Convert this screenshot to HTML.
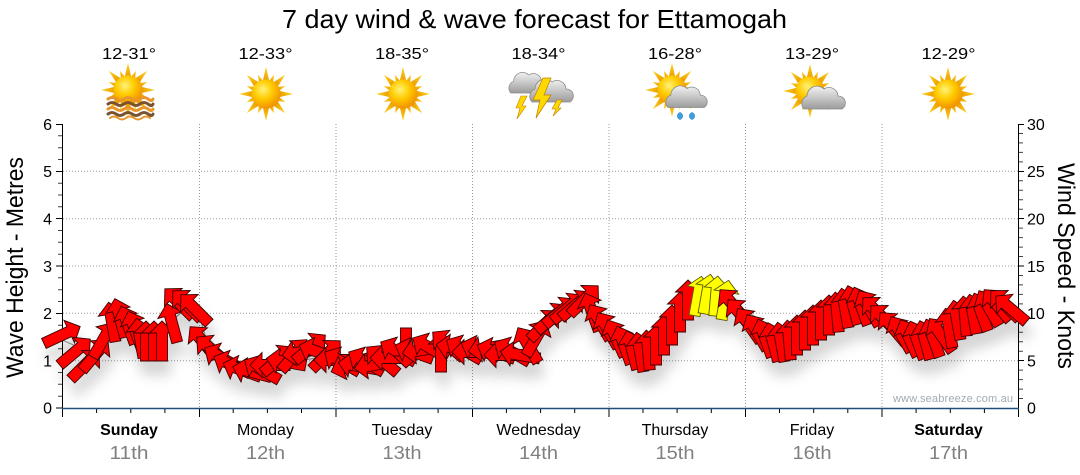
<!DOCTYPE html>
<html>
<head>
<meta charset="utf-8">
<style>
html,body{margin:0;padding:0;background:#fff;}
svg{display:block;}
text{font-family:"Liberation Sans",Arial,sans-serif;}
</style>
</head>
<body>
<svg width="1080" height="475" viewBox="0 0 1080 475" xmlns="http://www.w3.org/2000/svg">
<defs>
  <radialGradient id="sunG" cx="0.4" cy="0.35" r="0.7">
    <stop offset="0" stop-color="#fff27a"/>
    <stop offset="0.45" stop-color="#ffcc00"/>
    <stop offset="1" stop-color="#f08a00"/>
  </radialGradient>
  <linearGradient id="rayG" x1="0" y1="0" x2="0" y2="1">
    <stop offset="0" stop-color="#ffd21a"/>
    <stop offset="1" stop-color="#e89a00"/>
  </linearGradient>
  <linearGradient id="cloudG" x1="0" y1="0" x2="0" y2="1">
    <stop offset="0" stop-color="#f2f2f2"/>
    <stop offset="1" stop-color="#9c9c9c"/>
  </linearGradient>
  <g id="sun">
    <g fill="url(#rayG)">
      <polygon points="-3.5,-12 0,-27 3.5,-12"/>
      <polygon points="-3.5,-12 0,-27 3.5,-12" transform="rotate(45)"/>
      <polygon points="-3.5,-12 0,-27 3.5,-12" transform="rotate(90)"/>
      <polygon points="-3.5,-12 0,-27 3.5,-12" transform="rotate(135)"/>
      <polygon points="-3.5,-12 0,-27 3.5,-12" transform="rotate(180)"/>
      <polygon points="-3.5,-12 0,-27 3.5,-12" transform="rotate(225)"/>
      <polygon points="-3.5,-12 0,-27 3.5,-12" transform="rotate(270)"/>
      <polygon points="-3.5,-12 0,-27 3.5,-12" transform="rotate(315)"/>
      <polygon points="-2.5,-12 0,-21 2.5,-12" transform="rotate(22.5)"/>
      <polygon points="-2.5,-12 0,-21 2.5,-12" transform="rotate(67.5)"/>
      <polygon points="-2.5,-12 0,-21 2.5,-12" transform="rotate(112.5)"/>
      <polygon points="-2.5,-12 0,-21 2.5,-12" transform="rotate(157.5)"/>
      <polygon points="-2.5,-12 0,-21 2.5,-12" transform="rotate(202.5)"/>
      <polygon points="-2.5,-12 0,-21 2.5,-12" transform="rotate(247.5)"/>
      <polygon points="-2.5,-12 0,-21 2.5,-12" transform="rotate(292.5)"/>
      <polygon points="-2.5,-12 0,-21 2.5,-12" transform="rotate(337.5)"/>
    </g>
    <circle r="14.5" fill="url(#sunG)"/>
  </g>
  <g id="cloud">
    <path d="M-19,10 A8,8 0 0 1 -16,-3 A10,10 0 0 1 1,-10 A9,9 0 0 1 15,-3 A7,7 0 0 1 19,10 Z" fill="url(#cloudG)" stroke="#8a8a8a" stroke-width="0.8"/>
  </g>
  <polygon id="ar" points="0,-20 12.5,-8 5.5,-8 5.5,20 -5.5,20 -5.5,-8 -12.5,-8"/>
  <filter id="sh" x="-10%" y="-30%" width="120%" height="180%">
    <feDropShadow dx="3" dy="14" stdDeviation="6" flood-color="#000" flood-opacity="0.16"/>
  </filter>
</defs>

<!-- Title -->
<text x="534.5" y="28" font-size="26" text-anchor="middle" fill="#000" textLength="505" lengthAdjust="spacingAndGlyphs">7 day wind &amp; wave forecast for Ettamogah</text>

<!-- Temperatures -->
<g font-size="16" fill="#000" text-anchor="middle">
  <text x="129" y="59" textLength="54" lengthAdjust="spacingAndGlyphs">12-31°</text>
  <text x="265.5" y="59" textLength="54" lengthAdjust="spacingAndGlyphs">12-33°</text>
  <text x="402" y="59" textLength="54" lengthAdjust="spacingAndGlyphs">18-35°</text>
  <text x="538.5" y="59" textLength="54" lengthAdjust="spacingAndGlyphs">18-34°</text>
  <text x="675" y="59" textLength="54" lengthAdjust="spacingAndGlyphs">16-28°</text>
  <text x="812" y="59" textLength="54" lengthAdjust="spacingAndGlyphs">13-29°</text>
  <text x="948.5" y="59" textLength="54" lengthAdjust="spacingAndGlyphs">12-29°</text>
</g>

<!-- Icons -->
<use href="#sun" transform="translate(128,90)"/>
<g fill="none" stroke-width="3" stroke-linecap="round">
  <path d="M108,99 q4,-3 8,0 t8,0 t8,0 t8,0 t8,0 t5,0" stroke="#e8952a"/>
  <path d="M108,104 q4,-3 8,0 t8,0 t8,0 t8,0 t8,0 t5,0" stroke="#7a5230"/>
  <path d="M108,109 q4,-3 8,0 t8,0 t8,0 t8,0 t8,0 t5,0" stroke="#e8952a"/>
  <path d="M108,114 q4,-3 8,0 t8,0 t8,0 t8,0 t8,0 t5,0" stroke="#7a5230"/>
  <path d="M110,118 q4,-3 8,0 t8,0 t8,0 t8,0 t8,0" stroke="#e8952a" stroke-width="2"/>
</g>
<use href="#sun" transform="translate(266,94)"/>
<use href="#sun" transform="translate(403,94)"/>
<use href="#sun" transform="translate(948,94)"/>
<!-- Wednesday: storm -->
<use href="#cloud" transform="translate(528,84) scale(0.9)"/>
<polygon points="521,96 527,96 522,106 526,106 517,119 520,108 516,108" fill="#ffd800" stroke="#c08000" stroke-width="0.6"/>
<use href="#cloud" transform="translate(551,92) scale(1.0)"/>
<polygon points="543,78 551,78 544,95 551,95 536,118 540,100 533,100" fill="#ffd800" stroke="#c08000" stroke-width="0.7"/>
<polygon points="557,100 562,100 558,108 561,108 553,116 556,109 552,109" fill="#ffd800" stroke="#c08000" stroke-width="0.6"/>
<!-- Thursday -->
<use href="#sun" transform="translate(672,90)"/>
<use href="#cloud" transform="translate(686,98) scale(0.95)"/>
<ellipse cx="680" cy="116" rx="2.6" ry="3.4" fill="#3aa0e0" stroke="#1a70b0" stroke-width="0.5"/>
<ellipse cx="692" cy="116" rx="2.6" ry="3.4" fill="#3aa0e0" stroke="#1a70b0" stroke-width="0.5"/>
<!-- Friday -->
<use href="#sun" transform="translate(810,91)"/>
<use href="#cloud" transform="translate(823,99) scale(1.0)"/>

<!-- Gridlines -->
<g stroke="#9a9a9a" stroke-width="1" stroke-dasharray="1,2" fill="none">
  <line x1="63" y1="360.7" x2="1018" y2="360.7"/>
  <line x1="63" y1="313.3" x2="1018" y2="313.3"/>
  <line x1="63" y1="266" x2="1018" y2="266"/>
  <line x1="63" y1="218.7" x2="1018" y2="218.7"/>
  <line x1="63" y1="171.3" x2="1018" y2="171.3"/>
  <line x1="199.5" y1="124" x2="199.5" y2="408"/>
  <line x1="336" y1="124" x2="336" y2="408"/>
  <line x1="472.5" y1="124" x2="472.5" y2="408"/>
  <line x1="609" y1="124" x2="609" y2="408"/>
  <line x1="745.5" y1="124" x2="745.5" y2="408"/>
  <line x1="882" y1="124" x2="882" y2="408"/>
</g>

<!-- Watermark -->
<text x="893" y="402" font-size="11" fill="#a2aab4" textLength="120" lengthAdjust="spacing">www.seabreeze.com.au</text>

<!-- Axes -->
<g stroke="#000" stroke-width="1" fill="none">
  <line x1="62.5" y1="124" x2="62.5" y2="408"/>
  <line x1="1018.5" y1="124" x2="1018.5" y2="408"/>
  <path d="M56,124.5H62 M56,171.5H62 M56,218.5H62 M56,266H62 M56,313.5H62 M56,360.5H62 M56,408H62"/>
  <path d="M58,396.2H62 M58,384.3H62 M58,372.5H62 M58,348.8H62 M58,337H62 M58,325.2H62 M58,301.5H62 M58,289.7H62 M58,277.8H62 M58,254.2H62 M58,242.3H62 M58,230.5H62 M58,206.8H62 M58,195H62 M58,183.2H62 M58,159.5H62 M58,147.7H62 M58,135.8H62" stroke="#444"/>
  <path d="M1019,124.5H1024 M1019,171.5H1024 M1019,218.5H1024 M1019,266H1024 M1019,313.5H1024 M1019,360.5H1024"/>
  <path d="M1019,398.5H1023 M1019,389.1H1023 M1019,379.6H1023 M1019,370.1H1023 M1019,351.2H1023 M1019,341.7H1023 M1019,332.3H1023 M1019,322.8H1023 M1019,303.9H1023 M1019,294.4H1023 M1019,284.9H1023 M1019,275.5H1023 M1019,256.5H1023 M1019,247.1H1023 M1019,237.6H1023 M1019,228.1H1023 M1019,209.2H1023 M1019,199.7H1023 M1019,190.3H1023 M1019,180.8H1023 M1019,161.9H1023 M1019,152.4H1023 M1019,142.9H1023 M1019,133.5H1023" stroke="#444"/>
  <path d="M62.5,408V417 M199.5,408V417 M336,408V417 M472.5,408V417 M609,408V417 M745.5,408V417 M882,408V417 M1018.5,408V417"/>
  <path d="M96.6,408V413 M130.8,408V413 M164.9,408V413 M233.2,408V413 M267.4,408V413 M301.5,408V413 M369.8,408V413 M404,408V413 M438.1,408V413 M506.4,408V413 M540.6,408V413 M574.7,408V413 M643,408V413 M677.1,408V413 M711.3,408V413 M779.5,408V413 M813.7,408V413 M847.8,408V413 M916.1,408V413 M950.3,408V413 M984.4,408V413"/>
</g>
<line x1="62" y1="408.5" x2="1019" y2="408.5" stroke="#1d4f7c" stroke-width="1.6"/>

<!-- Left axis labels -->
<g font-size="16" fill="#000" text-anchor="end">
  <text x="52" y="130">6</text>
  <text x="52" y="177">5</text>
  <text x="52" y="224.5">4</text>
  <text x="52" y="272">3</text>
  <text x="52" y="319">2</text>
  <text x="52" y="366.5">1</text>
  <text x="52" y="413.5">0</text>
</g>
<!-- Right axis labels -->
<g font-size="16" fill="#000" text-anchor="start">
  <text x="1027" y="130">30</text>
  <text x="1027" y="177">25</text>
  <text x="1027" y="224.5">20</text>
  <text x="1027" y="272">15</text>
  <text x="1027" y="319">10</text>
  <text x="1027" y="366.5">5</text>
  <text x="1027" y="413.5">0</text>
</g>

<!-- Axis titles -->
<text transform="translate(23,267.5) rotate(-90)" font-size="24" text-anchor="middle" fill="#000" textLength="221" lengthAdjust="spacingAndGlyphs">Wave Height - Metres</text>
<text transform="translate(1058,266) rotate(90)" font-size="24" text-anchor="middle" fill="#000" textLength="206" lengthAdjust="spacingAndGlyphs">Wind Speed - Knots</text>

<!-- Day labels -->
<g text-anchor="middle">
  <text x="129" y="435" font-size="16" font-weight="bold" fill="#000">Sunday</text>
  <text x="265.5" y="435" font-size="16" fill="#000">Monday</text>
  <text x="402" y="435" font-size="16" fill="#000">Tuesday</text>
  <text x="538.5" y="435" font-size="16" fill="#000">Wednesday</text>
  <text x="675" y="435" font-size="16" fill="#000">Thursday</text>
  <text x="812" y="435" font-size="16" fill="#000">Friday</text>
  <text x="948.5" y="435" font-size="16" font-weight="bold" fill="#000">Saturday</text>
  <g font-size="18" fill="#808080">
    <text x="129" y="459" textLength="39" lengthAdjust="spacingAndGlyphs">11th</text>
    <text x="265.5" y="459" textLength="39" lengthAdjust="spacingAndGlyphs">12th</text>
    <text x="402" y="459" textLength="39" lengthAdjust="spacingAndGlyphs">13th</text>
    <text x="538.5" y="459" textLength="39" lengthAdjust="spacingAndGlyphs">14th</text>
    <text x="675" y="459" textLength="39" lengthAdjust="spacingAndGlyphs">15th</text>
    <text x="812" y="459" textLength="39" lengthAdjust="spacingAndGlyphs">16th</text>
    <text x="948.5" y="459" textLength="39" lengthAdjust="spacingAndGlyphs">17th</text>
  </g>
</g>

<!-- Wave height line -->
<polyline fill="none" stroke="#999" stroke-width="1.2" points="62,340 90,352 120,330 150,338 175,318 190,305 200,318 205,335 230,360 270,365 330,356 400,356 470,350 520,352 560,312 590,302 620,338 650,352 690,305 715,296 745,310 790,340 840,312 870,308 900,332 930,340 960,320 1000,305 1018,308"/>

<!-- Wind arrows -->
<g filter="url(#sh)">
<g fill="#ff0000" stroke="#3a0000" stroke-width="0.9" stroke-linejoin="miter">
  <use href="#ar" transform="translate(62,335) rotate(65)"/>
  <use href="#ar" transform="translate(75,352) rotate(50)"/>
  <use href="#ar" transform="translate(85,365) rotate(45)"/>
  <use href="#ar" transform="translate(95,355) rotate(40)"/>
  <use href="#ar" transform="translate(103,340) rotate(30)"/>
  <use href="#ar" transform="translate(112,322) rotate(-10)"/>
  <use href="#ar" transform="translate(120,318) rotate(-15)"/>
  <use href="#ar" transform="translate(128,325) rotate(-20)"/>
  <use href="#ar" transform="translate(135,330) rotate(-20)"/>
  <use href="#ar" transform="translate(140,338) rotate(-10)"/>
  <use href="#ar" transform="translate(146,341) rotate(0)"/>
  <use href="#ar" transform="translate(154,341) rotate(0)"/>
  <use href="#ar" transform="translate(162,341) rotate(0)"/>
  <use href="#ar" transform="translate(172,323) rotate(-15)"/>
  <use href="#ar" transform="translate(179,303) rotate(-45)"/>
  <use href="#ar" transform="translate(187,305) rotate(-45)"/>
  <use href="#ar" transform="translate(195,309) rotate(-45)"/>
  <use href="#ar" transform="translate(203,342) rotate(-40)"/>
  <use href="#ar" transform="translate(212,350) rotate(-50)"/>
  <use href="#ar" transform="translate(222,358) rotate(-60)"/>
  <use href="#ar" transform="translate(232,365) rotate(-65)"/>
  <use href="#ar" transform="translate(242,370) rotate(-70)"/>
  <use href="#ar" transform="translate(252,372) rotate(-75)"/>
  <use href="#ar" transform="translate(262,370) rotate(-60)"/>
  <use href="#ar" transform="translate(270,365) rotate(-90)"/>
  <use href="#ar" transform="translate(278,360) rotate(50)"/>
  <use href="#ar" transform="translate(286,362) rotate(-80)"/>
  <use href="#ar" transform="translate(294,355) rotate(40)"/>
  <use href="#ar" transform="translate(302,352) rotate(-100)"/>
  <use href="#ar" transform="translate(310,348) rotate(50)"/>
  <use href="#ar" transform="translate(318,352) rotate(-70)"/>
  <use href="#ar" transform="translate(326,355) rotate(45)"/>
  <use href="#ar" transform="translate(334,360) rotate(-90)"/>
  <use href="#ar" transform="translate(342,362) rotate(-60)"/>
  <use href="#ar" transform="translate(350,365) rotate(-110)"/>
  <use href="#ar" transform="translate(358,366) rotate(-80)"/>
  <use href="#ar" transform="translate(366,362) rotate(-60)"/>
  <use href="#ar" transform="translate(374,365) rotate(-100)"/>
  <use href="#ar" transform="translate(382,360) rotate(-50)"/>
  <use href="#ar" transform="translate(390,358) rotate(-90)"/>
  <use href="#ar" transform="translate(398,352) rotate(-60)"/>
  <use href="#ar" transform="translate(406,348) rotate(180)"/>
  <use href="#ar" transform="translate(414,352) rotate(-70)"/>
  <use href="#ar" transform="translate(422,350) rotate(-100)"/>
  <use href="#ar" transform="translate(430,348) rotate(-60)"/>
  <use href="#ar" transform="translate(441,352) rotate(0)"/>
  <use href="#ar" transform="translate(448,345) rotate(-50)"/>
  <use href="#ar" transform="translate(456,348) rotate(-80)"/>
  <use href="#ar" transform="translate(464,350) rotate(-60)"/>
  <use href="#ar" transform="translate(472,352) rotate(-90)"/>
  <use href="#ar" transform="translate(480,350) rotate(-70)"/>
  <use href="#ar" transform="translate(488,348) rotate(-100)"/>
  <use href="#ar" transform="translate(496,352) rotate(-70)"/>
  <use href="#ar" transform="translate(504,355) rotate(-90)"/>
  <use href="#ar" transform="translate(512,352) rotate(-60)"/>
  <use href="#ar" transform="translate(520,355) rotate(-80)"/>
  <use href="#ar" transform="translate(528,345) rotate(-30)"/>
  <use href="#ar" transform="translate(536,338) rotate(30)"/>
  <use href="#ar" transform="translate(544,325) rotate(45)"/>
  <use href="#ar" transform="translate(552,318) rotate(50)"/>
  <use href="#ar" transform="translate(560,312) rotate(50)"/>
  <use href="#ar" transform="translate(568,308) rotate(50)"/>
  <use href="#ar" transform="translate(576,305) rotate(50)"/>
  <use href="#ar" transform="translate(584,300) rotate(45)"/>
  <use href="#ar" transform="translate(592,312) rotate(-20)"/>
  <use href="#ar" transform="translate(600,322) rotate(-30)"/>
  <use href="#ar" transform="translate(608,330) rotate(-30)"/>
  <use href="#ar" transform="translate(616,338) rotate(-25)"/>
  <use href="#ar" transform="translate(624,345) rotate(-20)"/>
  <use href="#ar" transform="translate(632,350) rotate(-15)"/>
  <use href="#ar" transform="translate(640,352) rotate(-10)"/>
  <use href="#ar" transform="translate(648,350) rotate(-5)"/>
  <use href="#ar" transform="translate(656,345) rotate(0)"/>
  <use href="#ar" transform="translate(664,335) rotate(0)"/>
  <use href="#ar" transform="translate(672,325) rotate(0)"/>
  <use href="#ar" transform="translate(680,312) rotate(0)"/>
  <use href="#ar" transform="translate(688,300) rotate(0)"/>
</g>
<g fill="#ffff00" stroke="#5a5a00" stroke-width="0.9">
  <use href="#ar" transform="translate(698,296) rotate(10)"/>
  <use href="#ar" transform="translate(707,294) rotate(10)"/>
  <use href="#ar" transform="translate(716,296) rotate(5)"/>
  <use href="#ar" transform="translate(725,300) rotate(10)"/>
</g>
<g fill="#ff0000" stroke="#3a0000" stroke-width="0.9">
  <use href="#ar" transform="translate(733,305) rotate(-40)"/>
  <use href="#ar" transform="translate(741,315) rotate(-40)"/>
  <use href="#ar" transform="translate(749,325) rotate(-35)"/>
  <use href="#ar" transform="translate(757,332) rotate(-30)"/>
  <use href="#ar" transform="translate(765,338) rotate(-20)"/>
  <use href="#ar" transform="translate(773,342) rotate(-15)"/>
  <use href="#ar" transform="translate(781,342) rotate(-10)"/>
  <use href="#ar" transform="translate(789,340) rotate(-5)"/>
  <use href="#ar" transform="translate(797,335) rotate(0)"/>
  <use href="#ar" transform="translate(805,330) rotate(0)"/>
  <use href="#ar" transform="translate(813,325) rotate(0)"/>
  <use href="#ar" transform="translate(821,320) rotate(0)"/>
  <use href="#ar" transform="translate(829,315) rotate(0)"/>
  <use href="#ar" transform="translate(837,312) rotate(-5)"/>
  <use href="#ar" transform="translate(845,308) rotate(-10)"/>
  <use href="#ar" transform="translate(853,305) rotate(-15)"/>
  <use href="#ar" transform="translate(861,306) rotate(-20)"/>
  <use href="#ar" transform="translate(869,308) rotate(-30)"/>
  <use href="#ar" transform="translate(877,312) rotate(-45)"/>
  <use href="#ar" transform="translate(885,320) rotate(-45)"/>
  <use href="#ar" transform="translate(893,328) rotate(-40)"/>
  <use href="#ar" transform="translate(901,334) rotate(-30)"/>
  <use href="#ar" transform="translate(909,338) rotate(-25)"/>
  <use href="#ar" transform="translate(917,340) rotate(-20)"/>
  <use href="#ar" transform="translate(925,340) rotate(-15)"/>
  <use href="#ar" transform="translate(933,338) rotate(-20)"/>
  <use href="#ar" transform="translate(941,335) rotate(-35)"/>
  <use href="#ar" transform="translate(949,328) rotate(-10)"/>
  <use href="#ar" transform="translate(957,320) rotate(-10)"/>
  <use href="#ar" transform="translate(965,316) rotate(-5)"/>
  <use href="#ar" transform="translate(973,314) rotate(-10)"/>
  <use href="#ar" transform="translate(981,312) rotate(-20)"/>
  <use href="#ar" transform="translate(989,308) rotate(-30)"/>
  <use href="#ar" transform="translate(997,305) rotate(-40)"/>
  <use href="#ar" transform="translate(1005,305) rotate(-45)"/>
  <use href="#ar" transform="translate(1011,309) rotate(-50)"/>
</g>
</g>
</svg>
</body>
</html>
